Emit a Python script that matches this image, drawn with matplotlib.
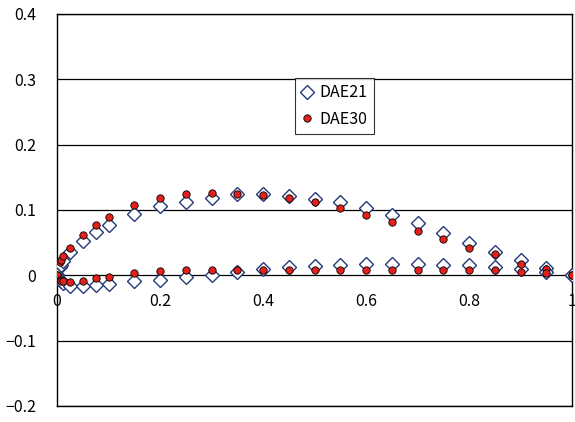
import matplotlib
matplotlib.use("Agg")
import matplotlib.pyplot as plt

plt.rcParams['font.family'] = ['Noto Sans CJK JP', 'DejaVu Sans']

x_stations = [0, 0.005, 0.0075, 0.0125, 0.025, 0.05, 0.075, 0.1, 0.15, 0.2, 0.25, 0.3,
              0.35, 0.4, 0.45, 0.5, 0.55, 0.6, 0.65, 0.7, 0.75, 0.8, 0.85, 0.9, 0.95, 1.0]

dae21_upper = [0, 0.012, 0.016, 0.022, 0.036, 0.053, 0.066, 0.077, 0.0945, 0.106, 0.113, 0.118,
               0.124, 0.1245, 0.1215, 0.117, 0.112, 0.1035, 0.093, 0.080, 0.065, 0.049, 0.036,
               0.023, 0.011, 0]
dae21_lower = [0, -0.007, -0.009, -0.011, -0.016, -0.016, -0.0145, -0.013, -0.009, -0.0077,
               -0.0025, 0.001, 0.005, 0.010, 0.013, 0.015, 0.016, 0.017, 0.018, 0.018, 0.0165,
               0.016, 0.013, 0.010, 0.005, 0]
dae30_upper = [0, 0.020, 0.024, 0.030, 0.042, 0.062, 0.077, 0.090, 0.107, 0.1185, 0.125, 0.1265,
               0.125, 0.1225, 0.118, 0.112, 0.103, 0.092, 0.082, 0.068, 0.056, 0.0426, 0.032,
               0.018, 0.010, 0]
dae30_lower = [0, -0.007, -0.008, -0.009, -0.010, -0.008, -0.004, -0.002, 0.0036, 0.006, 0.008,
               0.0087, 0.008, 0.008, 0.008, 0.008, 0.008, 0.008, 0.008, 0.008, 0.008, 0.008,
               0.008, 0.005, 0.003, 0]

series_names = ["DAE21", "DAE30"]
x_ticks = [0, 0.2, 0.4, 0.6, 0.8, 1.0]
x_tick_labels = ["0", "0.2", "0.4", "0.6", "0.8", "1"]
y_ticks = [-0.2, -0.1, 0, 0.1, 0.2, 0.3, 0.4]
y_tick_labels = ["\u22120.2", "\u22120.1", "0", "0.1", "0.2", "0.3", "0.4"]

fig = plt.figure(figsize=(5.75, 4.22), dpi=100)
ax = fig.add_axes([57/575, 16/422, 515/575, 392/422])

navy = "#253a78"
red = "#e3201b"

xs = x_stations + x_stations
ax.plot(xs, dae21_upper + dae21_lower, linestyle='none', marker='D', markersize=7.3,
        markerfacecolor='white', markeredgecolor=navy, markeredgewidth=1.0,
        label=series_names[0], zorder=3)
ax.plot(xs, dae30_upper + dae30_lower, linestyle='none', marker='o', markersize=5.3,
        markerfacecolor=red, markeredgecolor='black', markeredgewidth=0.6,
        label=series_names[1], zorder=4)

ax.set_xlim(0, 1)
ax.set_ylim(-0.2, 0.4)
ax.set_yticks(y_ticks)
ax.set_yticklabels(y_tick_labels)
ax.yaxis.grid(True, color='black', linewidth=0.9)
ax.set_axisbelow(True)
ax.tick_params(axis='y', length=0, pad=15, labelsize=11.5)
ax.set_xticks([])

for s in ax.spines.values():
    s.set_color('black')
    s.set_linewidth(1.0)

sec = ax.secondary_xaxis(1/3)
sec.set_xticks(x_ticks)
sec.set_xticklabels(x_tick_labels)
sec.tick_params(length=0, pad=13, labelsize=11.5)
sec.spines['bottom'].set_visible(False)
for lbl in sec.get_xticklabels():
    lbl.set_clip_on(False)

leg = ax.legend(loc='upper left', bbox_to_anchor=(0.463, 0.837), frameon=True,
                fancybox=False, edgecolor='black', fontsize=11.5, handlelength=0.6,
                handletextpad=0.5, borderpad=0.4, labelspacing=0.6, borderaxespad=0)
leg.get_frame().set_linewidth(0.8)

fig.savefig("out.png", dpi=100)
